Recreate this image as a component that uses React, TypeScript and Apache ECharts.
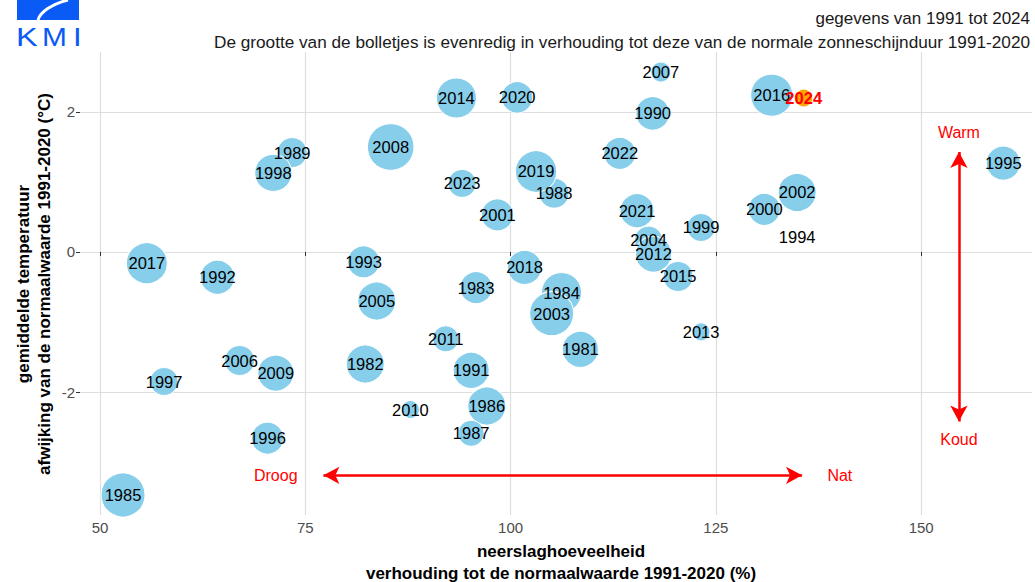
import React, { useEffect, useRef } from "react";
import * as echarts from "echarts";

// ---- data ----
const years = [
  1981, 1982, 1983, 1984, 1985, 1986, 1987, 1988, 1989, 1990,
  1991, 1992, 1993, 1994, 1995, 1996, 1997, 1998, 1999, 2000,
  2001, 2002, 2003, 2004, 2005, 2006, 2007, 2008, 2009, 2010,
  2011, 2012, 2013, 2014, 2015, 2016, 2017, 2018, 2019, 2020,
  2021, 2022, 2023, 2024,
];
// neerslag, % van normaal
const precipitation = [
  108.5, 82.3, 95.8, 106.2, 52.8, 97.1, 95.2, 105.3, 73.4, 117.3,
  95.2, 64.3, 82.1, 134.9, 160.0, 70.4, 57.8, 71.1, 123.2, 130.9,
  98.4, 134.9, 105.0, 116.8, 83.7, 67.0, 118.3, 85.4, 71.4, 87.8,
  92.1, 117.4, 123.2, 93.4, 120.4, 131.8, 55.7, 101.7, 103.1, 100.8,
  115.4, 113.3, 94.1, 135.7,
];
// temperatuurafwijking, °C
const temperature = [
  -1.39, -1.6, -0.51, -0.58, -3.47, -2.2, -2.59, 0.84, 1.42, 1.98,
  -1.69, -0.36, -0.14, 0.22, 1.27, -2.66, -1.85, 1.13, 0.35, 0.61,
  0.53, 0.85, -0.88, 0.17, -0.7, -1.55, 2.57, 1.5, -1.73, -2.25,
  -1.24, -0.03, -1.14, 2.2, -0.35, 2.24, -0.16, -0.22, 1.15, 2.21,
  0.59, 1.41, 0.98, 2.2,
];
// zonneschijnduur, % van normaal (bepaalt de grootte van de bolletjes)
const sunshine = [
  106.9, 109.9, 101.2, 113.2, 120.1, 109.9, 94.0, 98.7, 98.7, 103.1,
  106.9, 104.0, 101.2, 80.0, 104.0, 101.2, 96.2, 108.4, 96.2, 101.2,
  101.2, 109.9, 120.1, 96.2, 109.9, 98.7, 88.3, 125.0, 106.9, 86.7,
  94.0, 106.9, 86.7, 113.2, 98.7, 116.6, 114.8, 104.0, 115.5, 100.4,
  104.0, 101.2, 96.2, 86.7,
];
const xTicks = [50, 75, 100, 125, 150];
const yTicks = [-2, 0, 2];
const highlightYear = 2024;

// annotations (data coordinates)
const arrowDryWet = [[77.2, -3.19], [135.5, -3.19]];
const arrowWarmCold = [[154.6, 1.43], [154.6, -2.42]];
const annotText = ["Droog", "Nat", "Warm", "Koud"];
const annotX = [71.4, 140.1, 154.6, 154.6];
const annotY = [-3.19, -3.19, 1.7, -2.68];

const SUN_MIN = 80;
const SUN_MAX = 125;
const R_MAX = 23.3;
function bubbleSize(s: number) {
  const t = Math.max(0, (s - SUN_MIN) / (SUN_MAX - SUN_MIN));
  return Math.max(0.5, 2 * R_MAX * Math.sqrt(t));
}

const FONT = "'Liberation Sans', Arial, Helvetica, sans-serif";

export default function App() {
  const ref = useRef<HTMLDivElement>(null);

  useEffect(() => {
    if (!ref.current) return;
    const chart = echarts.init(ref.current, undefined, { renderer: "svg" });

    const bubbles = years.map((y, i) => {
      const hl = y === highlightYear;
      return {
        value: [precipitation[i], temperature[i], sunshine[i], y],
        itemStyle: hl ? { color: "#FFA500" } : undefined,
        label: hl
          ? { color: "#ff0000", fontWeight: "bold" as const }
          : undefined,
      };
    });

    const annots = annotText.map((t, i) => ({
      value: [annotX[i], annotY[i]],
      name: t,
    }));

    chart.setOption({
      animation: false,
      textStyle: { fontFamily: FONT },
      grid: { left: 80, right: 3, top: 52, bottom: 67, containLabel: false },
      xAxis: {
        type: "value",
        min: 47.56,
        max: 163.5,
        axisLine: { show: false },
        axisTick: {
          show: true,
          length: 4,
          lineStyle: { color: "#333", width: 1 },
          customValues: xTicks,
        },
        axisLabel: {
          customValues: xTicks,
          color: "#4d4d4d",
          fontSize: 15,
          margin: 5,
          fontFamily: FONT,
        },
        splitLine: { show: true, lineStyle: { color: "#dedede", width: 1.2 } },
      },
      yAxis: {
        type: "value",
        min: -3.757,
        max: 2.857,
        axisLine: { show: false },
        axisTick: {
          show: true,
          length: 4,
          lineStyle: { color: "#333", width: 1 },
          customValues: yTicks,
        },
        axisLabel: {
          customValues: yTicks,
          color: "#4d4d4d",
          fontSize: 15,
          margin: 5,
          fontFamily: FONT,
        },
        splitLine: { show: true, lineStyle: { color: "#dedede", width: 1.2 } },
      },
      series: [
        {
          type: "scatter",
          name: "jaren",
          data: bubbles,
          symbolSize: (v: number[]) => bubbleSize(v[2]),
          itemStyle: {
            color: "#87CEEB",
            borderColor: "#ffffff",
            borderWidth: 1,
            opacity: 1,
          },
          label: {
            show: true,
            position: "inside",
            formatter: (p: any) => String(p.value[3]),
            color: "#000",
            fontSize: 16.5,
            fontFamily: FONT,
            textBorderWidth: 0,
          },
          emphasis: { disabled: true },
          z: 3,
        },
        {
          type: "scatter",
          name: "annotaties",
          data: annots,
          symbolSize: 0,
          label: {
            show: true,
            position: "inside",
            formatter: (p: any) => p.name,
            color: "#ff0000",
            fontSize: 16,
            fontFamily: FONT,
            textBorderWidth: 0,
            opacity: 1,
          },
          emphasis: { disabled: true },
          silent: true,
          markLine: {
            silent: true,
            symbol: ["arrow", "arrow"],
            symbolSize: [13, 16],
            label: { show: false },
            lineStyle: { color: "#ff0000", width: 2.5, type: "solid" },
            data: [
              [{ coord: arrowDryWet[0] }, { coord: arrowDryWet[1] }],
              [{ coord: arrowWarmCold[0] }, { coord: arrowWarmCold[1] }],
            ],
          },
          z: 2,
        },
      ],
      graphic: [
        {
          type: "rect",
          shape: { x: 17, y: 0, width: 62, height: 20 },
          style: { fill: "#0a5af5" },
        },
        {
          type: "bezierCurve",
          shape: { x1: 68, y1: 0, cpx1: 52, cpy1: 4, cpx2: 40, cpy2: 12, x2: 38, y2: 20 },
          style: { stroke: "#ffffff", lineWidth: 3, fill: null },
        },
        {
          type: "text",
          x: 16,
          y: 24,
          scaleX: 1.25,
          style: { text: "K", fill: "#0a5af5", fontSize: 26, fontFamily: FONT, verticalAlign: "top" },
        },
        {
          type: "text",
          x: 42,
          y: 24,
          scaleX: 1.15,
          style: { text: "M", fill: "#0a5af5", fontSize: 26, fontFamily: FONT, verticalAlign: "top" },
        },
        {
          type: "text",
          x: 73,
          y: 24,
          scaleX: 1.2,
          style: { text: "I", fill: "#0a5af5", fontSize: 26, fontFamily: FONT, verticalAlign: "top" },
        },
        {
          type: "text",
          x: 1030,
          y: 18,
          style: {
            text: "gegevens van 1991 tot 2024",
            align: "right",
            verticalAlign: "middle",
            fontSize: 17,
            fontFamily: FONT,
            fill: "#1a1a1a",
          },
        },
        {
          type: "text",
          x: 1030,
          y: 42,
          style: {
            text: "De grootte van de bolletjes is evenredig in verhouding tot deze van de normale zonneschijnduur 1991-2020",
            align: "right",
            verticalAlign: "middle",
            fontSize: 17.2,
            fontFamily: FONT,
            fill: "#1a1a1a",
          },
        },
        {
          type: "text",
          x: 561,
          y: 551,
          style: {
            text: "neerslaghoeveelheid",
            align: "center",
            verticalAlign: "middle",
            fontSize: 17,
            fontWeight: "bold",
            fontFamily: FONT,
            fill: "#000",
          },
        },
        {
          type: "text",
          x: 561,
          y: 573,
          style: {
            text: "verhouding tot de normaalwaarde 1991-2020 (%)",
            align: "center",
            verticalAlign: "middle",
            fontSize: 17,
            fontWeight: "bold",
            fontFamily: FONT,
            fill: "#000",
          },
        },
        {
          type: "text",
          x: 23,
          y: 284,
          rotation: Math.PI / 2,
          style: {
            text: "gemiddelde temperatuur",
            align: "center",
            verticalAlign: "middle",
            fontSize: 17,
            fontWeight: "bold",
            fontFamily: FONT,
            fill: "#000",
          },
        },
        {
          type: "text",
          x: 44,
          y: 284,
          rotation: Math.PI / 2,
          style: {
            text: "afwijking van de normaalwaarde 1991-2020 (°C)",
            align: "center",
            verticalAlign: "middle",
            fontSize: 17,
            fontWeight: "bold",
            fontFamily: FONT,
            fill: "#000",
          },
        },
      ],
    });

    return () => chart.dispose();
  }, []);

  return (
    <div
      ref={ref}
      style={{ position: "fixed", left: 0, top: 0, width: 1035, height: 582, background: "#fff" }}
    />
  );
}
